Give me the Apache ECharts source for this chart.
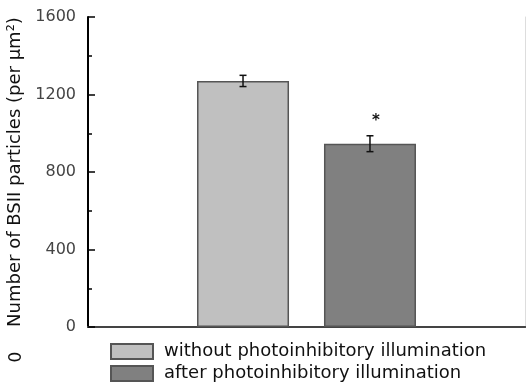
<!DOCTYPE html>
<html><head><meta charset="utf-8">
<script src="https://cdn.jsdelivr.net/npm/echarts@6/dist/echarts.min.js"></script>
<style>html,body{margin:0;padding:0;background:#fff}#c{width:526px;height:384px}</style>
</head><body><div id="c"></div>
<script>
const categories = [''];
const seriesNames = ['without photoinhibitory illumination', 'after photoinhibitory illumination'];
const meanValues = [1270, 946];
const errorValues = [29, 41];
const significance = ['', '*'];
const yAxisTitle = 'Number of BSII particles (per \u00b5m\u00b2)';
const yMin = 0, yMax = 1600, yInterval = 400;
const barColors = ['#c0c0c0', '#808080'];

const FONT = 'DejaVu Sans';
const BAR_WIDTH = 92, BAR_GAP = '38%';
const chart = echarts.init(document.getElementById('c'), null, {renderer: 'canvas'});

const barSeries = seriesNames.map((name, i) => ({
  type: 'bar', name: name, data: [meanValues[i]], barWidth: BAR_WIDTH, barGap: BAR_GAP,
  itemStyle: {color: barColors[i], borderColor: '#555', borderWidth: 1.5},
  silent: true
}));

const errSeries = {
  type: 'custom', name: 'error', silent: true, z: 5,
  data: meanValues.map((v, i) => [0, v, errorValues[i], i]),
  renderItem: function (params, api) {
    const i = api.value(3);
    const layout = api.barLayout({count: seriesNames.length, barWidth: BAR_WIDTH, barGap: BAR_GAP});
    const base = api.coord([api.value(0), api.value(1)]);
    const x = base[0] + layout[i].offsetCenter;
    const hi = api.coord([api.value(0), api.value(1) + api.value(2)])[1];
    const lo = api.coord([api.value(0), api.value(1) - api.value(2)])[1];
    const cap = 3.5;
    const st = {stroke: '#111', lineWidth: 1.5};
    const children = [
      {type: 'line', shape: {x1: x, y1: hi, x2: x, y2: lo}, style: st},
      {type: 'line', shape: {x1: x - cap, y1: hi, x2: x + cap, y2: hi}, style: st},
      {type: 'line', shape: {x1: x - cap, y1: lo, x2: x + cap, y2: lo}, style: st}
    ];
    if (significance[i]) {
      children.push({type: 'text', x: 6, y: -5, style: {text: significance[i], x: x, y: hi - 2, align: 'center',
        verticalAlign: 'bottom', fontFamily: FONT, fontSize: 15, fontWeight: 'bold', fill: '#111'}});
    }
    return {type: 'group', children: children};
  }
};

chart.setOption({
  animation: false,
  grid: {left: 88, right: 1, top: 17, bottom: 57, containLabel: false, outerBoundsMode: 'none'},
  legend: {
    data: seriesNames, orient: 'vertical', left: 110, top: 342.5, padding: 0, itemWidth: 42, itemHeight: 15, itemGap: 4,
    icon: 'rect', selectedMode: false,
    textStyle: {fontFamily: FONT, fontSize: 18, color: '#111', padding: [0, 0, 0, 6]}
  },
  xAxis: [
    {type: 'category', data: categories, position: 'bottom',
     axisLine: {lineStyle: {color: '#444', width: 2}}, axisTick: {show: false}, axisLabel: {show: false}},
    {type: 'category', data: categories, position: 'top',
     axisLine: {lineStyle: {color: '#444', width: 2}}, axisTick: {show: false}, axisLabel: {show: false}}
  ],
  yAxis: [
    {type: 'value', min: yMin, max: yMax, interval: yInterval, position: 'left',
     name: yAxisTitle, nameLocation: 'middle', nameGap: 60,
     nameTextStyle: {fontFamily: FONT, fontSize: 18, color: '#111'},
     axisLine: {show: true, lineStyle: {color: '#000', width: 2}},
     axisTick: {show: true, inside: true, length: 7, lineStyle: {color: '#000', width: 1.5}},
     minorTick: {show: true, splitNumber: 2, length: 4, lineStyle: {color: '#000', width: 1.5}},
     axisLabel: {margin: 12, fontFamily: FONT, fontSize: 16, color: '#444', formatter: v => String(v)},
     splitLine: {show: false}},
    {type: 'value', min: yMin, max: yMax, interval: yInterval, position: 'right',
     axisLine: {show: true, lineStyle: {color: '#ddd', width: 1}},
     axisTick: {show: false}, axisLabel: {show: false}, splitLine: {show: false}}
  ],
  graphic: [
    {type: 'text', x: 17, y: 357, rotation: Math.PI / 2,
     style: {text: '0', fontFamily: FONT, fontSize: 17, fill: '#111', align: 'center', verticalAlign: 'middle'}}
  ],
  series: barSeries.concat([errSeries])
});
</script>
</body></html>
